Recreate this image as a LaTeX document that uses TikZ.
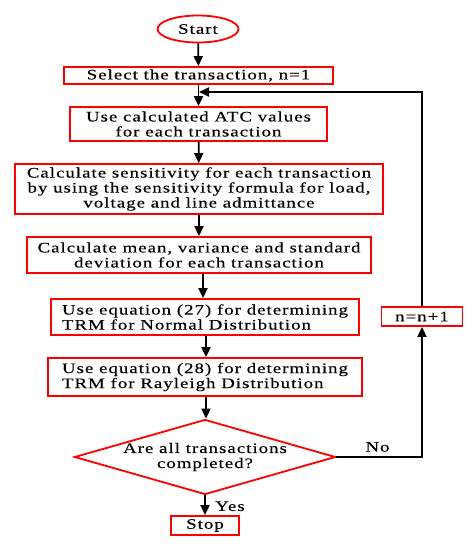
\documentclass[tikz,border=0pt]{standalone}
\usepackage{fontspec}
\setmainfont{Liberation Serif}[FakeStretch=1.3,LetterSpace=7,FakeBold=0.3]
\usetikzlibrary{shapes.geometric,arrows.meta}
\begin{document}
\begin{tikzpicture}[x=1pt,y=-1pt,
  every node/.style={font=\fontsize{14.5}{15}\selectfont},
  box/.style={draw=red,line width=1.8pt,rectangle,inner sep=0pt,align=center},
  arr/.style={draw=black,line width=1.8pt,-{Triangle[width=9pt,length=10pt]}},
  plain/.style={draw=black,line width=1.8pt}]
\useasboundingbox (0,0) rectangle (474,551);
\node[draw=red,line width=1.8pt,ellipse,inner sep=0pt,minimum width=81pt,minimum height=27pt] (start) at (198,29) {Start};
\node[box,minimum width=269pt,minimum height=17pt] (b1) at (198.5,75.5) {Select the transaction, n=1};
\node[box,minimum width=257pt,minimum height=34pt] (b2) at (198.5,124) {Use calculated ATC values\\for each transaction};
\node[box,minimum width=368pt,minimum height=50pt] (b3) at (199,189) {Calculate sensitivity for each transaction\\by using the sensitivity formula for load,\\voltage and line admittance};
\node[box,minimum width=344pt,minimum height=36pt] (b4) at (199,255) {Calculate mean, variance and standard\\deviation for each transaction};
\node[box,align=left,minimum width=308pt,minimum height=36pt] (b5) at (205,317) {Use equation (27) for determining\\TRM for Normal Distribution};
\node[box,align=left,minimum width=314pt,minimum height=38pt] (b6) at (205,377) {Use equation (28) for determining\\TRM for Rayleigh Distribution};
\node[draw=red,line width=1.8pt,diamond,aspect=3.48,inner sep=0pt,minimum width=261pt,minimum height=75pt,
  label={[align=center]center:Are all transactions\\completed?}] (dec) at (205,457) {};
\node[box,minimum width=68pt,minimum height=19pt] (stop) at (205,525.5) {Stop};
\node[box,minimum width=81pt,minimum height=19pt] (inc) at (422,316.5) {n=n+1};
\coordinate (loopin) at (199,92);
\draw[arr] (start) -- (b1);
\draw[arr] (b1) -- (b2);
\draw[arr] (b2) -- (b3);
\draw[arr] (b3) -- (b4);
\draw[arr] ([xshift=4pt]b4.south) -- ([xshift=4pt]b4.south |- b5.north);
\draw[arr] ([xshift=1pt]b5.south) -- ([xshift=1pt]b5.south |- b6.north);
\draw[arr] ([xshift=1pt]b6.south) -- ([xshift=1pt]b6.south |- dec.north);
\draw[arr] (dec.south) -- node[right,xshift=6pt,yshift=-1pt] (yes) {Yes} (stop.north);
\draw[arr] (dec.east) -| node[pos=0.24,above,yshift=1pt] (no) {No} (inc.south);
\draw[arr] (inc.north) |- (loopin);
\end{tikzpicture}
\end{document}
